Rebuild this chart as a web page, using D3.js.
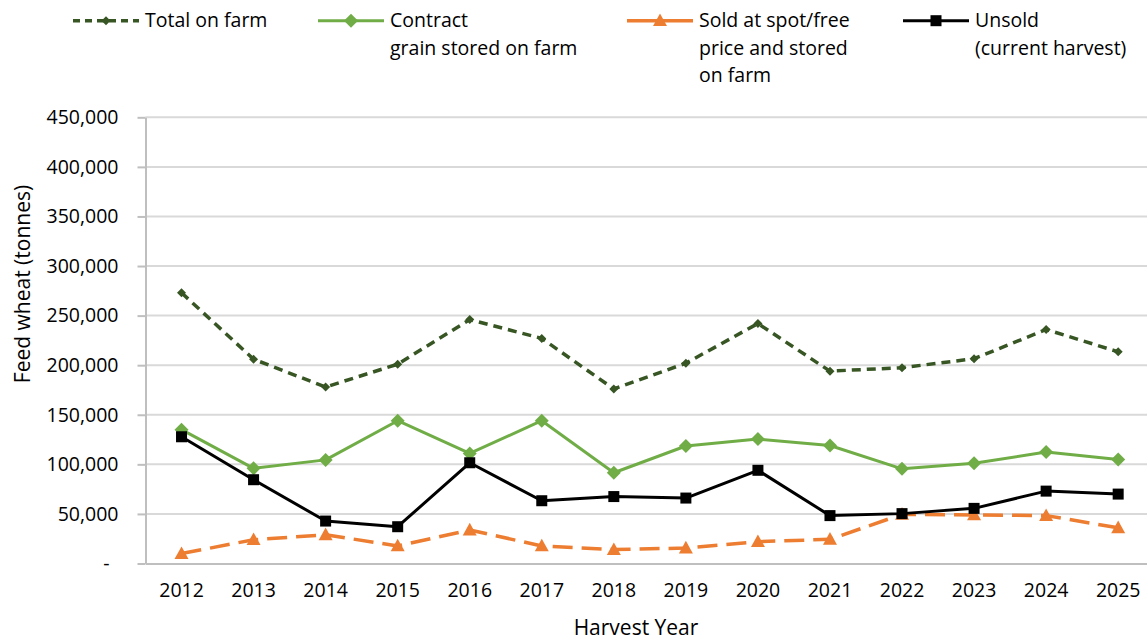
<!DOCTYPE html>
<html>
<head>
<meta charset="utf-8">
<script src="https://cdn.jsdelivr.net/npm/d3@7"></script>
<style>
  html, body { margin: 0; padding: 0; background: #fff; }
  svg { display: block; font-family: "Open Sans", sans-serif; }
</style>
</head>
<body>
<svg id="chart" width="1147" height="641"></svg>
<script>
// ---- data ----
const years = ["2012","2013","2014","2015","2016","2017","2018","2019","2020","2021","2022","2023","2024","2025"];
const totalOnFarm = [273000, 206000, 178000, 201000, 246000, 227000, 176000, 202000, 242000, 194000, 197500, 206500, 236000, 213500];
const contractStored = [135000, 96000, 104500, 144000, 111000, 144000, 91500, 118500, 125500, 119000, 95500, 101000, 112500, 105000];
const soldSpotStored = [10000, 24000, 29000, 17700, 33800, 17700, 14000, 15600, 22000, 24400, 49600, 49000, 48300, 36000];
const unsoldCurrent = [127800, 84500, 42800, 37100, 101600, 63300, 67500, 66000, 94000, 48300, 50300, 55600, 73000, 70000];
const yTicks = [0, 50000, 100000, 150000, 200000, 250000, 300000, 350000, 400000, 450000];
const seriesNames = [
  ["Total on farm"],
  ["Contract", "grain stored on farm"],
  ["Sold at spot/free", "price and stored", "on farm"],
  ["Unsold", "(current harvest)"]
];

const series = [
  { name: seriesNames[0], values: totalOnFarm, color: "#375623", width: 3.5, dash: "9,6", marker: "diamondSmall", legendX: 73 },
  { name: seriesNames[1], values: contractStored, color: "#70ad47", width: 3, dash: null, marker: "diamond", legendX: 318 },
  { name: seriesNames[2], values: soldSpotStored, color: "#ed7d31", width: 3.5, dash: "20,9", marker: "triangle", legendX: 627 },
  { name: seriesNames[3], values: unsoldCurrent, color: "#000000", width: 3, dash: null, marker: "square", legendX: 903 }
];

// ---- layout ----
const svg = d3.select("#chart");
const plotLeft = 145.5, step = 72.05;
const plotRight = plotLeft + step * years.length;
const plotTop = 117.3, plotBottom = 563.5;

const x = d3.scaleBand().domain(years).range([plotLeft, plotRight]).padding(0);
const xc = d => x(d) + x.bandwidth() / 2;
const y = d3.scaleLinear().domain([0, 450000]).range([plotBottom, plotTop]);

// gridlines
svg.append("g")
  .selectAll("line")
  .data(yTicks.filter(t => t > 0))
  .join("line")
  .attr("x1", plotLeft).attr("x2", plotRight)
  .attr("y1", d => y(d)).attr("y2", d => y(d))
  .attr("stroke", "#d9d9d9").attr("stroke-width", 2);

// y axis
const fmt = d3.format(",");
const yAxis = svg.append("g")
  .attr("transform", `translate(${plotLeft},0)`)
  .call(d3.axisLeft(y).tickValues(yTicks).tickSize(8).tickSizeOuter(0).tickPadding(19)
    .tickFormat(d => d === 0 ? "-" : fmt(d)));
yAxis.select(".domain").attr("stroke", "#bfbfbf").attr("stroke-width", 2);
yAxis.selectAll(".tick line").attr("stroke", "#bfbfbf").attr("stroke-width", 2);
yAxis.selectAll(".tick text")
  .attr("font-size", "19.5px").attr("fill", "#000")
  .attr("font-family", "'Open Sans', sans-serif")
  .attr("dx", d => d === 0 ? -9 : 0);

// x axis
const xAxis = svg.append("g")
  .attr("transform", `translate(0,${plotBottom})`)
  .call(d3.axisBottom(x).tickSize(0).tickSizeOuter(0).tickPadding(20));
xAxis.select(".domain").attr("stroke", "#bfbfbf").attr("stroke-width", 2);
xAxis.selectAll(".tick text")
  .attr("font-size", "19.5px").attr("fill", "#000")
  .attr("font-family", "'Open Sans', sans-serif");

// axis titles
svg.append("text")
  .attr("x", 636).attr("y", 635)
  .attr("text-anchor", "middle")
  .attr("font-size", "21px")
  .text("Harvest Year");
svg.append("text")
  .attr("transform", "translate(30,284) rotate(-90)")
  .attr("text-anchor", "middle")
  .attr("font-size", "21px")
  .text("Feed wheat (tonnes)");

// marker drawing
function drawMarker(g, type, cx, cy, color) {
  if (type === "diamondSmall") {
    const s = 4.5;
    g.append("path").attr("d", `M${cx},${cy - s}L${cx + s},${cy}L${cx},${cy + s}L${cx - s},${cy}Z`).attr("fill", color);
  } else if (type === "diamond") {
    const s = 7;
    g.append("path").attr("d", `M${cx},${cy - s}L${cx + s},${cy}L${cx},${cy + s}L${cx - s},${cy}Z`).attr("fill", color);
  } else if (type === "triangle") {
    const w = 7, h = 12;
    g.append("path").attr("d", `M${cx},${cy - h * 0.6}L${cx + w},${cy + h * 0.45}L${cx - w},${cy + h * 0.45}Z`).attr("fill", color);
  } else if (type === "square") {
    const s = 5.5;
    g.append("rect").attr("x", cx - s).attr("y", cy - s).attr("width", 2 * s).attr("height", 2 * s).attr("fill", color);
  }
}

// series
const line = d3.line().x((d, i) => xc(years[i])).y(d => y(d));
series.forEach(s => {
  const g = svg.append("g");
  g.append("path")
    .attr("d", line(s.values))
    .attr("fill", "none")
    .attr("stroke", s.color)
    .attr("stroke-width", s.width)
    .attr("stroke-linejoin", "round")
    .attr("stroke-dasharray", s.dash);
  s.values.forEach((v, i) => drawMarker(g, s.marker, xc(years[i]), y(v), s.color));
});

// legend
series.forEach(s => {
  const g = svg.append("g");
  const ly = 20.7;
  g.append("line")
    .attr("x1", s.legendX).attr("x2", s.legendX + 66)
    .attr("y1", ly).attr("y2", ly)
    .attr("stroke", s.color).attr("stroke-width", s.width)
    .attr("stroke-dasharray", s.dash ? (s.marker === "diamondSmall" ? "7,5" : null) : null);
  drawMarker(g, s.marker, s.legendX + 33, ly, s.color);
  const t = g.append("text")
    .attr("x", s.legendX + 72).attr("y", 27)
    .attr("font-size", "19.5px").attr("fill", "#000");
  s.name.forEach((ln, k) => {
    t.append("tspan").attr("x", s.legendX + 72).attr("y", 27 + k * 27.5).text(ln);
  });
});
</script>
</body>
</html>
